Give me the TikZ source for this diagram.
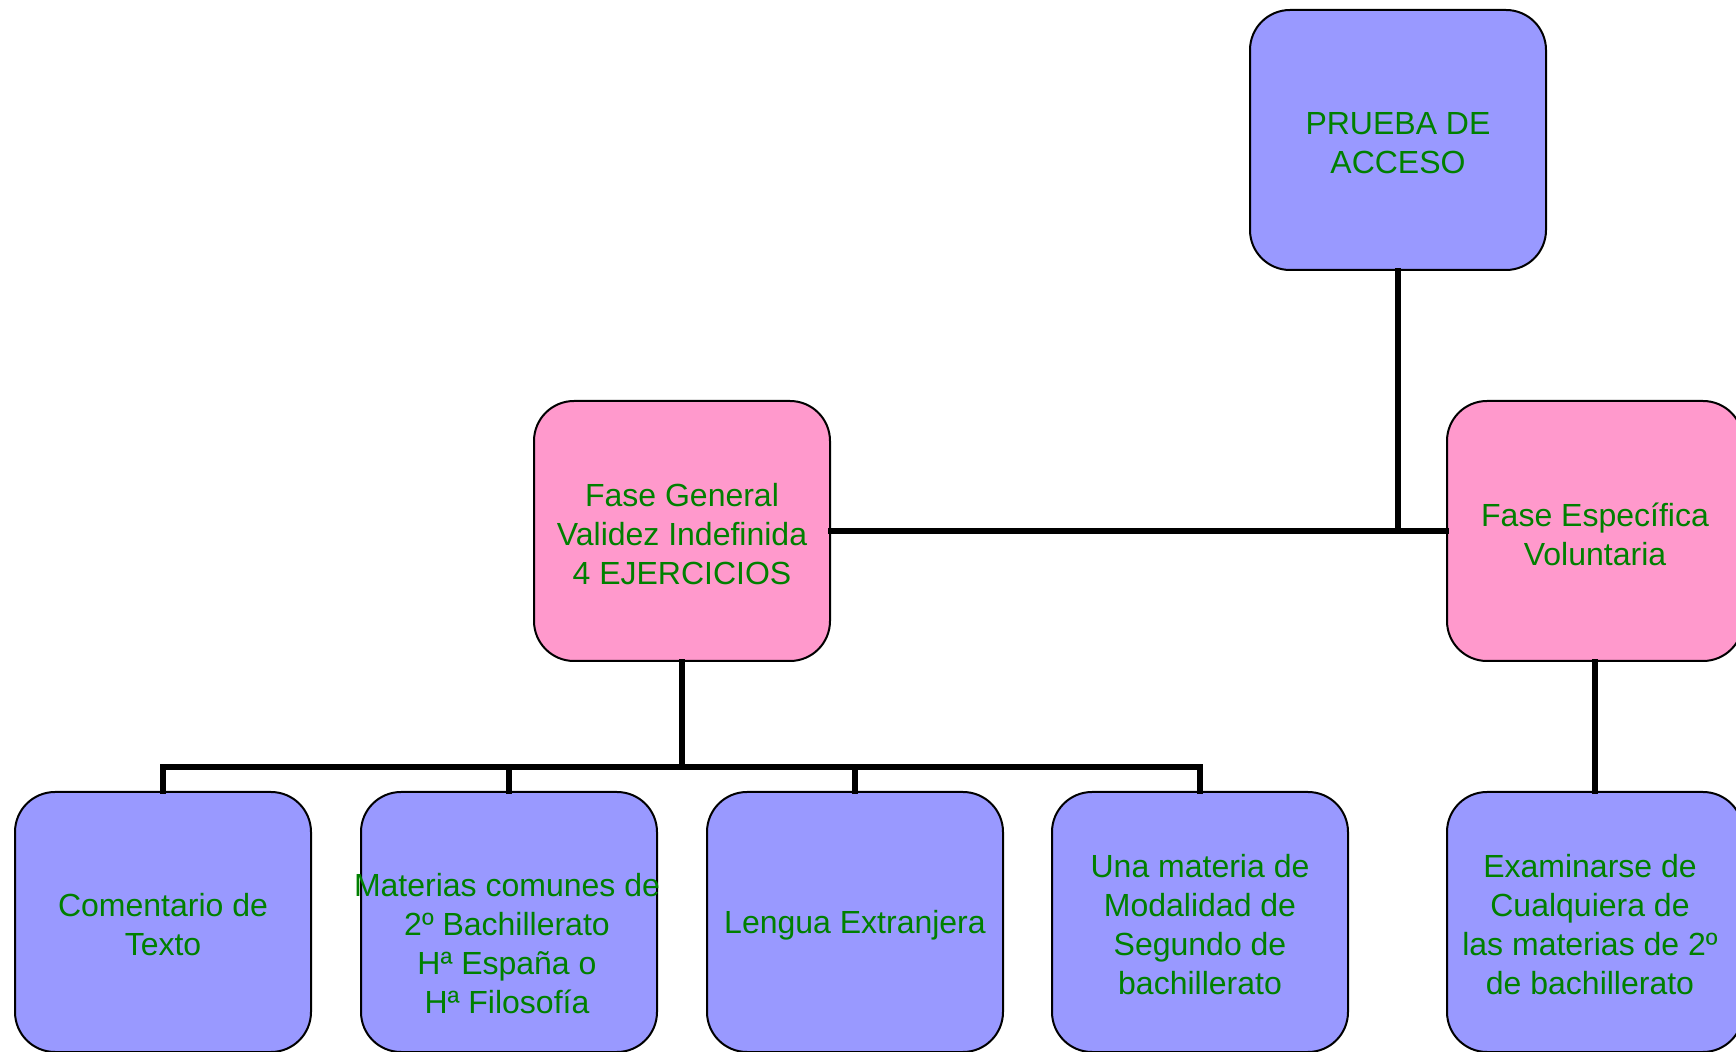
\documentclass[tikz,border=0pt]{standalone}
\usepackage{fontspec}
\setmainfont{Liberation Sans}
\definecolor{boxblue}{RGB}{153,153,255}
\definecolor{boxpink}{RGB}{255,153,204}
\definecolor{txtgreen}{RGB}{0,128,0}
\tikzset{
  card/.style={draw=black, line width=1pt, rounded corners=20pt, minimum width=148pt, minimum height=130pt, inner sep=0pt},
  bluecard/.style={card, fill=boxblue},
  pinkcard/.style={card, fill=boxpink},
  txt/.style={text=txtgreen, align=center, inner sep=0pt, yshift=-1.5pt, font=\fontsize{16pt}{19.5pt}\selectfont},
  conn/.style={line width=3.3pt, line join=miter, line cap=rect}
}
\begin{document}
\begin{tikzpicture}[x=0.5pt,y=-0.5pt]
\clip (0,0) rectangle (1736,1052);
\fill[white] (0,0) rectangle (1736,1052);
\node[bluecard] (top) at (1398,140) {};
\node[pinkcard] (gen) at (682,531) {};
\node[pinkcard] (esp) at (1595,531) {};
\node[bluecard] (b1) at (163,922) {};
\node[bluecard] (b2) at (509,922) {};
\node[bluecard] (b3) at (855,922) {};
\node[bluecard] (b4) at (1200,922) {};
\node[bluecard] (b5) at (1595,922) {};
\coordinate (bus) at (682,767);
% connectors
\draw[conn] (top.south) -- (top.south |- gen.east);
\draw[conn] (gen.east) -- (esp.west);
\draw[conn] (gen.south) -- (bus);
\draw[conn] (b1.north) -- (b1.north |- bus) -- (b4.north |- bus) -- (b4.north);
\draw[conn] (b2.north) -- (b2.north |- bus);
\draw[conn] (b3.north) -- (b3.north |- bus);
\draw[conn] (esp.south) -- (b5.north);
% texts
\node[txt] (toptx) at (top) {PRUEBA DE\\ACCESO};
\node[txt] (gentx) at (gen) {Fase General\\Validez Indefinida\\4 EJERCICIOS};
\node[txt] (esptx) at (esp) {Fase Específica\\Voluntaria};
\node[txt] (b1tx) at (b1) {Comentario de\\Texto};
\node[txt] (b2tx) at ([xshift=-1pt,yshift=-9.5pt]b2.center) {Materias comunes de\\2º Bachillerato\\Hª España o\\Hª Filosofía};
\node[txt] (b3tx) at (b3) {Lengua Extranjera};
\node[txt] (b4tx) at (b4) {Una materia de\\Modalidad de\\Segundo de\\bachillerato};
\node[txt] (b5tx) at ([xshift=-2.5pt]b5.center) {Examinarse de\\Cualquiera de\\las materias de 2º\\de bachillerato};
\end{tikzpicture}
\end{document}
